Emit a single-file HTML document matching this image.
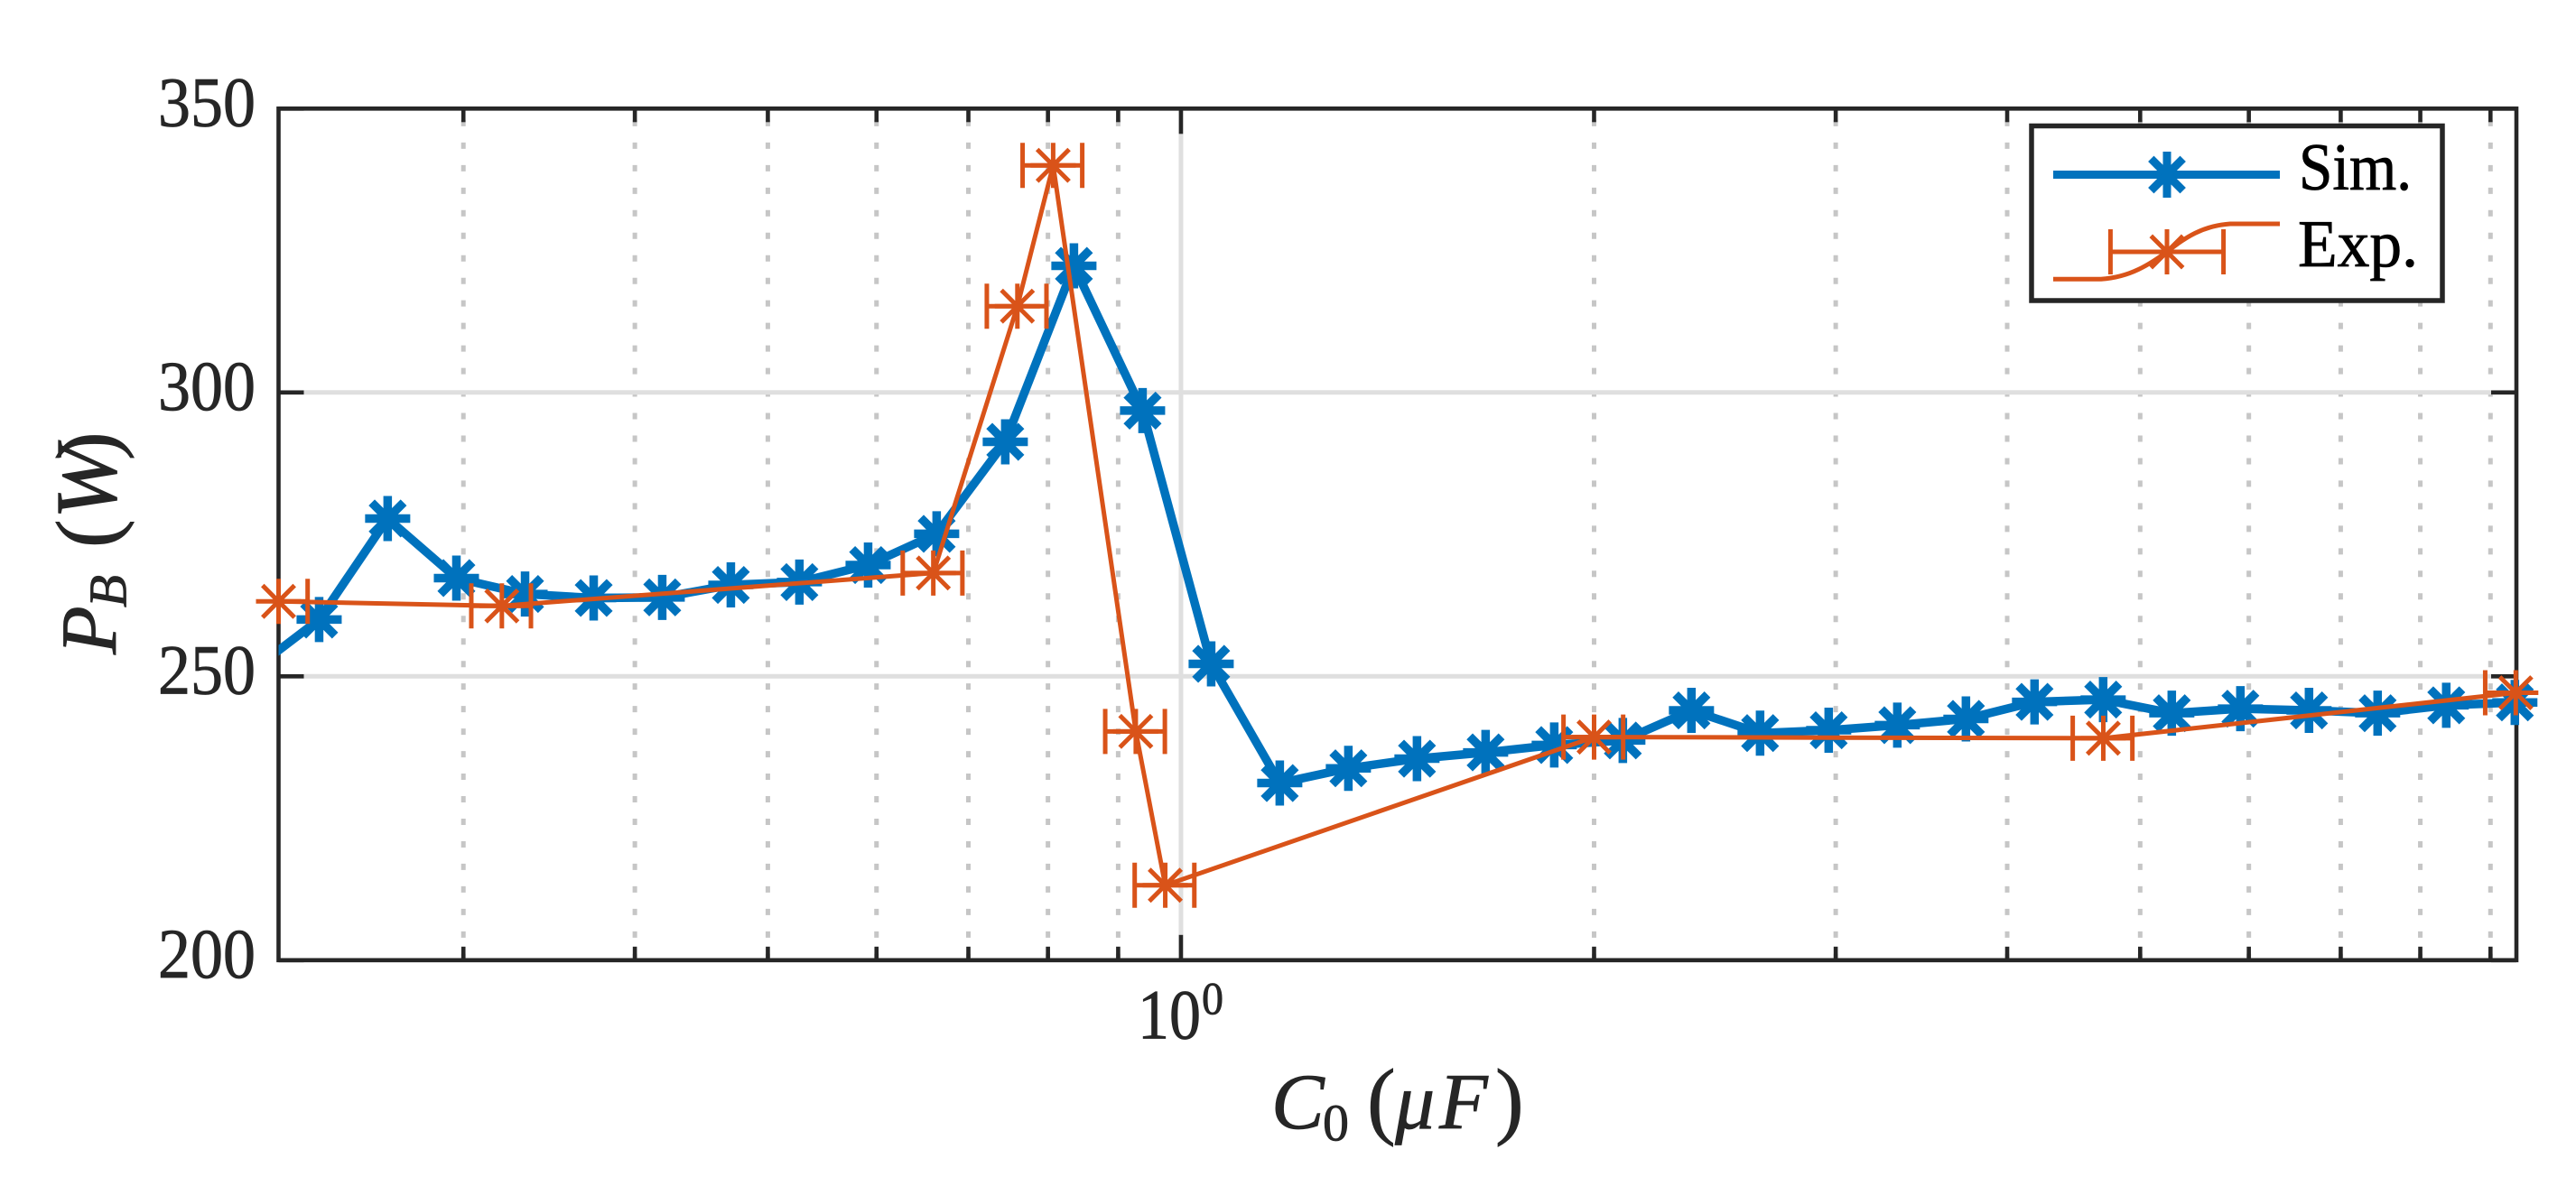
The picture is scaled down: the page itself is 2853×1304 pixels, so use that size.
<!DOCTYPE html>
<html lang="en">
<head>
<meta charset="utf-8">
<title>P_B versus C_0</title>
<style>
  html, body { margin: 0; padding: 0; background: #ffffff; }
  svg { display: block; }
  text { font-family: "Liberation Serif", serif; }
</style>
</head>
<body>
<svg id="chart" xmlns="http://www.w3.org/2000/svg" width="2853" height="1304" viewBox="0 0 2853 1304">
  <defs>
    <clipPath id="plot-clip"><rect x="308.5" y="120.3" width="2478.5" height="943.5"/></clipPath>
  </defs>
  <rect x="0" y="0" width="2853" height="1304" fill="#ffffff"/>
  <g id="grid"></g>
  <g id="ticks"></g>
  <rect x="308.5" y="120.3" width="2478.5" height="943.5" fill="none" stroke="#262626" stroke-width="4.6"/>
  <g id="y-labels"></g>
  <g fill="#262626" stroke="#262626" stroke-width="0.8">
    <text x="1260" y="1150.5" font-size="78" textLength="70" lengthAdjust="spacingAndGlyphs">10</text>
    <text x="1331" y="1123.5" font-size="51" textLength="24" lengthAdjust="spacingAndGlyphs">0</text>
  </g>
  <text y="1250" font-size="88" fill="#262626" stroke="#262626" stroke-width="0.8"><tspan x="1408" font-style="italic">C</tspan><tspan x="1465" y="1263.5" font-size="58">0</tspan><tspan x="1514" y="1250" font-size="95">(</tspan><tspan x="1545" font-style="italic">μ</tspan><tspan x="1594" font-style="italic">F</tspan><tspan x="1656" font-size="95">)</tspan></text>
  <text transform="translate(128,725) rotate(-90)" font-size="88" fill="#262626" stroke="#262626" stroke-width="0.8"><tspan x="0" font-style="italic">P</tspan><tspan x="52" y="11.5" font-size="59" font-style="italic">B</tspan><tspan x="118" y="0" font-size="95">(</tspan><tspan x="150" font-style="italic" font-size="96">W</tspan><tspan x="215" font-size="95">)</tspan></text>
  <g id="series-sim"></g>
  <g id="series-exp"></g>
  <g>
    <rect x="2250" y="139.5" width="455" height="193.5" fill="#ffffff" stroke="#262626" stroke-width="5.5"/>
    <g>
      <line x1="2274" y1="193.5" x2="2525" y2="193.5" stroke="#0072BD" stroke-width="9"/>
      <path d="M2400 168V219M2382.3 175.8L2417.7 211.2M2382.3 211.2L2417.7 175.8" stroke="#0072BD" stroke-width="9" fill="none"/>
      <text x="2546" y="210" font-size="74" fill="#000000" stroke="#000000" stroke-width="0.8" textLength="125" lengthAdjust="spacingAndGlyphs">Sim.</text>
    </g>
    <g>
      <path d="M2274 309.3L2327 309.3C2360 307 2380 293 2400 279C2420 263 2440 250 2470 248L2525 248" stroke="#D95319" stroke-width="5" fill="none"/>
      <path d="M2337.4 279H2462.6M2337.4 254V304M2462.6 254V304" stroke="#D95319" stroke-width="5" fill="none"/>
      <path d="M2400 254V304M2382.3 261.3L2417.7 296.7M2382.3 296.7L2417.7 261.3" stroke="#D95319" stroke-width="5" fill="none"/>
      <text x="2545" y="295" font-size="74" fill="#000000" stroke="#000000" stroke-width="0.8" textLength="133" lengthAdjust="spacingAndGlyphs">Exp.</text>
    </g>
  </g>
</svg>
<script>
// Axis limits
const xLimits = [0.22, 9.4];
const yLimits = [200, 350];

// Ticks
const xMajorTicks = [1];
const xMinorTicks = [0.3, 0.4, 0.5, 0.6, 0.7, 0.8, 0.9, 2, 3, 4, 5, 6, 7, 8, 9];
const yTicks = [200, 250, 300, 350];
const yTickLabels = ['200', '250', '300', '350'];

// Simulation series
const simC0 = [0.2099, 0.2355, 0.2642, 0.2965, 0.3327, 0.3733, 0.4188, 0.4699, 0.5272, 0.5916, 0.6637,
  0.7447, 0.8356, 0.9376, 1.0520, 1.1803, 1.3243, 1.4859, 1.6672, 1.8707, 2.0989, 2.3550,
  2.6424, 2.9648, 3.3266, 3.7325, 4.1879, 4.6989, 5.2723, 5.9156, 6.6374, 7.4473, 8.3560, 9.3756];
const simPB = [250.8, 260.0, 277.8, 267.3, 264.5, 263.8, 263.9, 266.1, 266.6, 269.6, 275.1,
  291.3, 322.3, 296.8, 252.2, 231.2, 233.8, 235.5, 236.6, 237.9, 238.7, 244.0,
  240.0, 240.5, 241.4, 242.5, 245.5, 245.9, 243.5, 244.3, 244.0, 243.5, 244.9, 245.4];

// Experiment series
const expC0 = [0.22, 0.32, 0.66, 0.76, 0.807, 0.927, 0.974, 2.0, 4.7, 9.39];
const expPB = [263.2, 262.4, 268.2, 315.2, 340.0, 240.3, 213.2, 239.3, 239.1, 247.1];
const expC0Error = [0.05, 0.05, 0.05, 0.05, 0.05, 0.05, 0.05, 0.05, 0.05, 0.05];

const NS = 'http://www.w3.org/2000/svg';
const plot = { left: 308.5, right: 2787, top: 120.3, bottom: 1063.8 };

function xScale(v) {
  const a = Math.log10(xLimits[0]);
  const b = Math.log10(xLimits[1]);
  return plot.left + (Math.log10(v) - a) / (b - a) * (plot.right - plot.left);
}
function yScale(v) {
  return plot.bottom - (v - yLimits[0]) / (yLimits[1] - yLimits[0]) * (plot.bottom - plot.top);
}
function node(tag, parent) {
  const el = document.createElementNS(NS, tag);
  parent.appendChild(el);
  return el;
}
function setLine(el, x1, y1, x2, y2, color, width) {
  el.setAttribute('x1', x1);
  el.setAttribute('y1', y1);
  el.setAttribute('x2', x2);
  el.setAttribute('y2', y2);
  el.setAttribute('stroke', color);
  el.setAttribute('stroke-width', width);
}
function starPath(cx, cy) {
  const r = 25;
  const d = 17.7;
  return 'M' + (cx - r) + ' ' + cy + 'H' + (cx + r) +
    'M' + cx + ' ' + (cy - r) + 'V' + (cy + r) +
    'M' + (cx - d) + ' ' + (cy - d) + 'L' + (cx + d) + ' ' + (cy + d) +
    'M' + (cx - d) + ' ' + (cy + d) + 'L' + (cx + d) + ' ' + (cy - d);
}

const gridGroup = document.getElementById('grid');
const tickGroup = document.getElementById('ticks');
const yLabelGroup = document.getElementById('y-labels');
const simGroup = document.getElementById('series-sim');
const expGroup = document.getElementById('series-exp');

// Minor vertical grid lines and ticks
xMinorTicks.forEach(function (v) {
  const x = xScale(v);
  const g = node('line', gridGroup);
  setLine(g, x, plot.bottom, x, plot.top, '#c6c6c6', 5);
  g.setAttribute('stroke-dasharray', '7 17.97');
  
  
  const t1 = node('line', tickGroup);
  setLine(t1, x, plot.top, x, plot.top + 15, '#262626', 4.6);
  
  
  const t2 = node('line', tickGroup);
  setLine(t2, x, plot.bottom, x, plot.bottom - 15, '#262626', 4.6);
  
  
});

// Major vertical grid lines and ticks
xMajorTicks.forEach(function (v) {
  const x = xScale(v);
  const g = node('line', gridGroup);
  setLine(g, x, plot.top, x, plot.bottom, '#dfdfdf', 5);
  
  
  const t1 = node('line', tickGroup);
  setLine(t1, x, plot.top, x, plot.top + 28, '#262626', 4.6);
  
  
  const t2 = node('line', tickGroup);
  setLine(t2, x, plot.bottom, x, plot.bottom - 28, '#262626', 4.6);
  
  
});

// Horizontal grid lines, ticks and labels
yTicks.forEach(function (v, i) {
  const y = yScale(v);
  const g = node('line', gridGroup);
  setLine(g, plot.left, y, plot.right, y, '#dfdfdf', 5);
  
  
  const t1 = node('line', tickGroup);
  setLine(t1, plot.left, y, plot.left + 28, y, '#262626', 4.6);
  
  
  const t2 = node('line', tickGroup);
  setLine(t2, plot.right, y, plot.right - 28, y, '#262626', 4.6);
  
  
  const label = node('text', yLabelGroup);
  label.setAttribute('x', 175);
  label.setAttribute('y', y + 19);
  label.setAttribute('font-size', 78);
  label.setAttribute('fill', '#262626');
  label.setAttribute('stroke', '#262626');
  label.setAttribute('stroke-width', 0.8);
  label.setAttribute('textLength', 108);
  label.setAttribute('lengthAdjust', 'spacingAndGlyphs');
  label.textContent = yTickLabels[i];
  
  
});

function inRange(v) {
  return v >= xLimits[0] && v <= xLimits[1];
}

// Simulation line and markers
const simLine = node('polyline', simGroup);
simLine.setAttribute('points', simC0.map(function (c, i) {
  return xScale(c).toFixed(2) + ',' + yScale(simPB[i]).toFixed(2);
}).join(' '));
simLine.setAttribute('fill', 'none');
simLine.setAttribute('stroke', '#0072BD');
simLine.setAttribute('stroke-width', 9.5);
simLine.setAttribute('stroke-linejoin', 'round');
simLine.setAttribute('clip-path', 'url(#plot-clip)');



simC0.forEach(function (c, i) {
  if (!inRange(c)) return;
  const m = node('path', simGroup);
  m.setAttribute('d', starPath(xScale(c), yScale(simPB[i])));
  m.setAttribute('fill', 'none');
  m.setAttribute('stroke', '#0072BD');
  m.setAttribute('stroke-width', 9.5);
  
  
});

// Experiment line, error bars and markers
const expLine = node('polyline', expGroup);
expLine.setAttribute('points', expC0.map(function (c, i) {
  return xScale(c).toFixed(2) + ',' + yScale(expPB[i]).toFixed(2);
}).join(' '));
expLine.setAttribute('fill', 'none');
expLine.setAttribute('stroke', '#D95319');
expLine.setAttribute('stroke-width', 5);
expLine.setAttribute('stroke-linejoin', 'round');
expLine.setAttribute('clip-path', 'url(#plot-clip)');



expC0.forEach(function (c, i) {
  const y = yScale(expPB[i]);
  const lo = xScale(c * (1 - expC0Error[i]));
  const hi = xScale(c * (1 + expC0Error[i]));
  const bar = node('path', expGroup);
  bar.setAttribute('d', 'M' + lo + ' ' + y + 'H' + hi + 'M' + lo + ' ' + (y - 25) + 'V' + (y + 25) + 'M' + hi + ' ' + (y - 25) + 'V' + (y + 25));
  bar.setAttribute('fill', 'none');
  bar.setAttribute('stroke', '#D95319');
  bar.setAttribute('stroke-width', 5);
  bar.setAttribute('clip-path', 'url(#plot-clip)');
  
  
  const m = node('path', expGroup);
  m.setAttribute('d', starPath(xScale(c), y));
  m.setAttribute('fill', 'none');
  m.setAttribute('stroke', '#D95319');
  m.setAttribute('stroke-width', 5);
  
  
});
</script>
</body>
</html>
